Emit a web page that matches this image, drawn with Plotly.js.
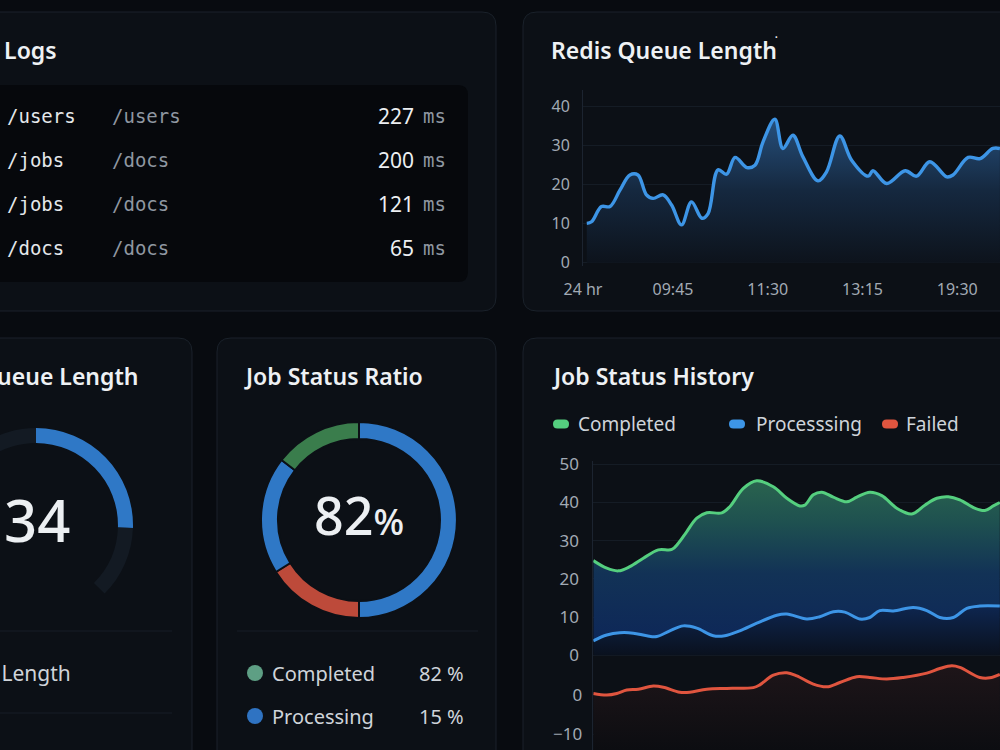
<!DOCTYPE html>
<html>
<head>
<meta charset="utf-8">
<script src="https://cdn.plot.ly/plotly-3.0.1.min.js"></script>
<style>
  html, body { margin: 0; padding: 0; width: 1000px; height: 750px; overflow: hidden; background: #080b10; }
  #dash { position: absolute; left: -120px; top: 0; width: 1120px; height: 750px; }
</style>
</head>
<body>
<div id="dash"></div>
<script>
// ---------------- data ----------------
const logRoutes = ['/users', '/jobs', '/jobs', '/docs'];
const logTargets = ['/users', '/docs', '/docs', '/docs'];
const logLatencyMs = [227, 200, 121, 65];

const redisTickVals = [0, 19, 39, 59, 79];
const redisTickText = ['24 hr', '09:45', '11:30', '13:15', '19:30'];
const redisX = [0.8, 1.8, 3.9, 5.7, 7.8, 9.9, 11.6, 13.4, 14.8, 16.9, 18.7, 20.8, 22.9, 25.1, 26.4, 28.5, 30.3, 32.1, 34.6, 36.3,
                38.0, 40.5, 42.2, 44.3, 46.4, 49.6, 51.4, 54.2, 56.7, 60.2, 61.2, 64.1, 68.0, 70.4, 73.2, 76.8, 78.1, 81.3, 83.8, 86.5, 88.0];
const redisLength = [10.1, 10.5, 14.4, 14.4, 18.6, 22.5, 22.5, 17.4, 16.5, 17.4, 14.8, 9.7, 15.6, 11.4, 12.6, 23.8, 22.7, 27.0, 24.4, 25.0,
                     31.0, 36.8, 29.3, 32.7, 27.2, 21.0, 23.3, 32.5, 26.3, 22.2, 23.6, 20.3, 23.6, 22.2, 25.9, 22.0, 22.5, 27.0, 26.7, 29.3, 29.3];

const queueLength = 34;
const queueMax = 100;

const ratioSegments = ['Processing', 'Failed', 'Processing', 'Completed'];
const ratioSegmentShare = [50.0, 16.1, 19.4, 14.5];
const statusNames = ['Completed', 'Processing', 'Failed'];
const statusPct = [82, 15, 3];

const historySeriesNames = ['Completed', 'Processsing', 'Failed'];
const completedX = [0, 2.7, 5, 7.3, 10, 13, 15.7, 17, 18.7, 20.7, 22.7, 25.7, 27.3, 30, 32.7, 36, 38.7, 41.3, 42.3, 44,
                    45.7, 48, 50.7, 52.7, 55.3, 57.7, 60.7, 63.7, 66.3, 68.7, 71, 73.3, 76.3, 78.3, 80, 81.3];
const completedJobs = [24.8, 22.8, 22.1, 23.2, 25.4, 27.6, 27.7, 29.3, 32.4, 35.9, 37.3, 37.3, 38.9, 43.7, 45.7, 44.1, 41.1, 39.1, 39.3, 42.0,
                       42.7, 41.4, 40.2, 41.4, 42.7, 41.8, 38.5, 37.0, 39.3, 41.1, 41.5, 40.7, 38.5, 37.9, 39.1, 40.0];
const processingX = [0, 2.7, 5.3, 8, 10.7, 12.7, 15.3, 18, 20.7, 24, 26.3, 29.3, 32.7, 36.7, 38.7, 42.7, 45.3, 48, 50.3, 53.3,
                     55.3, 57.3, 60, 64, 66.7, 69.3, 72, 74.7, 77.3, 81.3];
const processingJobs = [3.8, 5.3, 5.9, 5.8, 5.1, 4.9, 6.4, 7.7, 7.1, 5.1, 5.1, 6.4, 8.4, 10.5, 10.8, 9.5, 10.1, 11.4, 11.3, 9.5,
                        9.9, 11.7, 11.6, 12.5, 11.7, 9.9, 9.9, 12.3, 12.9, 12.9];
const failedX = [0, 2.7, 4.7, 6.7, 9, 12, 14, 17.3, 19.3, 22.7, 26.7, 32, 33.3, 36, 38.7, 40.7, 44, 46.7, 49.3, 52.7,
                 55.3, 58.7, 62, 66.7, 69.3, 71.7, 73.3, 77.3, 79.3, 81.3];
const failedJobs = [0.4, 0, 0.4, 1.3, 1.5, 2.3, 2.0, 0.7, 0.7, 1.5, 1.7, 1.9, 2.6, 5.1, 5.7, 4.9, 2.8, 2.1, 3.2, 4.7,
                    4.5, 4.1, 4.5, 5.6, 6.8, 7.5, 7.1, 4.5, 4.4, 5.3];

// ---------------- styling ----------------
const SANS = '"Noto Sans", "Open Sans", sans-serif';
const MONO = '"DejaVu Sans Mono", "Liberation Mono", monospace';
const COL = {
  page: '#080b10', card: '#0c1016', cardLine: '#1a212a', well: '#06080c',
  rule: '#161d26', grid: '#151c25', axis: '#1c2430',
  title: '#eef1f4', tick: '#a2aab4', text: '#cfd4da', dim: '#8f97a1',
  blue: '#3d95e6', green: '#55cf7f', red: '#e0553f',
  donutBlue: '#2f78c6', donutRed: '#bd4a3a', donutGreen: '#3a7d4c',
  dotGreen: '#5e9f84', dotBlue: '#2f73c2', dotRed: '#c0503e',
  track: '#131a23'
};

// page is 1120px wide, shifted 120px left so panels can run off the left edge
const OFF = 120, W = 1120, H = 750;
const px = x => (x + OFF) / W;
const py = y => 1 - y / H;

function roundRect(x0, y0, x1, y1, r) {
  const P = (x, y) => `${px(x)},${py(y)}`;
  return `M${P(x0 + r, y0)} L${P(x1 - r, y0)} Q${P(x1, y0)} ${P(x1, y0 + r)} ` +
         `L${P(x1, y1 - r)} Q${P(x1, y1)} ${P(x1 - r, y1)} L${P(x0 + r, y1)} ` +
         `Q${P(x0, y1)} ${P(x0, y1 - r)} L${P(x0, y0 + r)} Q${P(x0, y0)} ${P(x0 + r, y0)} Z`;
}

const shapes = [];
function card(x0, y0, x1, y1) {
  shapes.push({ type: 'path', xref: 'paper', yref: 'paper', layer: 'below', path: roundRect(x0, y0, x1, y1, 14),
                fillcolor: COL.card, line: { color: COL.cardLine, width: 1 } });
}
function rule(x0, x1, y) {
  shapes.push({ type: 'line', xref: 'paper', yref: 'paper', layer: 'below', x0: px(x0), x1: px(x1), y0: py(y), y1: py(y),
                line: { color: COL.rule, width: 1 } });
}

// cards
card(-30, 12, 496, 311);
card(523, 12, 1040, 311);
card(-30, 338, 192, 790);
card(217, 338, 496, 790);
card(523, 338, 1040, 790);
// logs well
shapes.push({ type: 'path', xref: 'paper', yref: 'paper', layer: 'below', path: roundRect(-30, 85, 468, 282, 10),
              fillcolor: COL.well, line: { width: 0 } });
// dividers
rule(0, 172, 631);
rule(0, 172, 713);
rule(237, 478, 631);

const annotations = [];
function label(text, x, y, o) {
  o = o || {};
  annotations.push({
    xref: 'paper', yref: 'paper', x: px(x), y: py(y), text: text, showarrow: false,
    xanchor: o.anchor || 'left', yanchor: 'middle',
    font: { family: o.family || SANS, size: o.size || 20, color: o.color || COL.text, weight: o.weight || 400 }
  });
}

// titles
label('API Logs', 59, 50, { anchor: 'right', size: 23, weight: 600, color: COL.title });
label('Redis Queue Length', 549, 50, { size: 23, weight: 600, color: COL.title });
label('•', 776, 37, { size: 7, color: COL.title, anchor: 'center' });
label('Queue Length', 140, 376, { anchor: 'right', size: 23, weight: 600, color: COL.title });
label('Job Status Ratio', 242, 376, { size: 23, weight: 600, color: COL.title });
label('Job Status History', 550, 376, { size: 23, weight: 600, color: COL.title });

// request log rows
logRoutes.forEach((r, i) => {
  const y = 116 + 44 * i;
  label(r, 5, y, { family: MONO, size: 19, color: '#e4e7ea' });
  label(logTargets[i], 110, y, { family: MONO, size: 19, color: COL.dim });
  label(String(logLatencyMs[i]), 416, y, { anchor: 'right', size: 21, color: '#eceff2' });
  label('ms', 421, y, { family: MONO, size: 19, color: COL.dim });
});

// queue gauge text
label(String(queueLength), 37, 519, { anchor: 'center', size: 58, weight: 500, color: '#eceff2' });
label('Queue Length', 73, 673, { anchor: 'right', size: 21, color: COL.text });
label('Count', 38, 757, { anchor: 'right', size: 20, color: COL.text });
label('Ptena 2d', 83, 757, { size: 20, color: COL.dim });

// job status ratio text
label(statusPct[0] + '<span style="font-size:36px">%</span>', 359, 514, { anchor: 'center', size: 52, weight: 500, color: '#eceff2' });
const dotColors = [COL.dotGreen, COL.dotBlue, COL.dotRed];
statusNames.forEach((n, i) => {
  const y = 673 + 43 * i;
  shapes.push({ type: 'circle', xref: 'paper', yref: 'paper', x0: px(247), x1: px(263), y0: py(y + 8), y1: py(y - 8),
                fillcolor: dotColors[i], line: { width: 0 } });
  label(n, 270, y, { size: 20, color: COL.text });
  label(statusPct[i] + ' %', 466, y, { anchor: 'right', size: 20, color: COL.text });
});

// job status history legend
const legendPill = [553, 729, 882];
const legendText = [576, 754, 904];
const seriesColors = [COL.green, COL.blue, COL.red];
historySeriesNames.forEach((n, i) => {
  shapes.push({ type: 'path', xref: 'paper', yref: 'paper',
                path: roundRect(legendPill[i], 419.5, legendPill[i] + 16, 428.5, 4.5),
                fillcolor: seriesColors[i], line: { width: 0 } });
  label(n, legendText[i], 424, { size: 19, color: COL.text });
});

// ---------------- traces ----------------
const noHover = { hoverinfo: 'skip', showlegend: false };

const traces = [
  // redis queue length
  Object.assign({
    type: 'scatter', mode: 'lines', x: redisX, y: redisLength, xaxis: 'x', yaxis: 'y',
    line: { color: COL.blue, width: 3.4, shape: 'spline', smoothing: 1 },
    fill: 'tozeroy',
    fillgradient: { type: 'vertical', start: 0, stop: 37,
      colorscale: [[0, 'rgb(13,19,28)'], [0.5, 'rgb(21,40,63)'], [1, 'rgb(38,80,125)']] }
  }, noHover),

  // failed jobs band (own scale) – filled down to the bottom of the panel
  Object.assign({
    type: 'scatter', mode: 'lines', x: [0, 81.34], y: [-14.1, -14.1], xaxis: 'x2', yaxis: 'y3',
    line: { width: 0, color: 'rgba(0,0,0,0)' }
  }, noHover),
  Object.assign({
    type: 'scatter', mode: 'lines', x: failedX, y: failedJobs, xaxis: 'x2', yaxis: 'y3',
    line: { color: COL.red, width: 3, shape: 'spline', smoothing: 1 },
    fill: 'tonexty',
    fillgradient: { type: 'vertical', start: -14, stop: 7.5,
      colorscale: [[0, 'rgb(12,13,17)'], [1, 'rgb(30,21,25)']] }
  }, noHover),

  // processing
  Object.assign({
    type: 'scatter', mode: 'lines', x: processingX, y: processingJobs, xaxis: 'x2', yaxis: 'y2',
    line: { color: COL.blue, width: 3, shape: 'spline', smoothing: 1 },
    fill: 'tozeroy',
    fillgradient: { type: 'vertical', start: 0, stop: 13,
      colorscale: [[0, 'rgb(10,17,30)'], [1, 'rgb(14,38,80)']] }
  }, noHover),

  // completed
  Object.assign({
    type: 'scatter', mode: 'lines', x: completedX, y: completedJobs, xaxis: 'x2', yaxis: 'y2',
    line: { color: COL.green, width: 3, shape: 'spline', smoothing: 1 },
    fill: 'tonexty',
    fillgradient: { type: 'vertical', start: 5, stop: 46,
      colorscale: [[0, 'rgb(14,40,88)'], [0.4, 'rgb(18,50,86)'], [0.72, 'rgb(30,80,80)'], [1, 'rgb(42,100,78)']] }
  }, noHover),

  // queue gauge: 270° track from 225° to 135° (clockwise from top), value arc from the top
  Object.assign({
    type: 'pie', values: [queueLength / queueMax * 270, 135 - queueLength / queueMax * 270, 90, 135],
    marker: { colors: [COL.donutBlue, COL.track, 'rgba(0,0,0,0)', COL.track], line: { width: 0 } },
    hole: 0.845, sort: false, direction: 'clockwise', rotation: 0, textinfo: 'none',
    domain: { x: [px(-61), px(133)], y: [py(622), py(428)] }
  }, noHover),

  // job status ratio donut
  Object.assign({
    type: 'pie', labels: ratioSegments.map((s, i) => s + ' ' + i), values: ratioSegmentShare,
    marker: { colors: [COL.donutBlue, COL.donutRed, COL.donutBlue, COL.donutGreen], line: { color: COL.card, width: 2 } },
    hole: 0.827, sort: false, direction: 'clockwise', rotation: 0, textinfo: 'none',
    domain: { x: [px(261), px(457)], y: [py(618), py(422)] }
  }, noHover)
];

// ---------------- layout ----------------
const tickFont = { family: SANS, size: 16, color: COL.tick };

const layout = {
  width: W, height: H, autosize: false,
  margin: { l: 0, r: 0, t: 0, b: 0, pad: 0 },
  paper_bgcolor: COL.page, plot_bgcolor: 'rgba(0,0,0,0)',
  showlegend: false, hovermode: false,
  shapes: shapes, annotations: annotations,

  xaxis: {
    domain: [px(583), 1], range: [0, 88.02], anchor: 'y',
    tickmode: 'array', tickvals: redisTickVals, ticktext: redisTickText,
    showgrid: false, zeroline: false, showline: false, ticks: '',
    tickfont: tickFont, ticklabelstandoff: 12, fixedrange: true
  },
  yaxis: {
    domain: [py(266), py(90)], range: [-0.85, 44.3], anchor: 'x',
    tickmode: 'array', tickvals: [0, 10, 20, 30, 40],
    showgrid: true, gridcolor: COL.grid, gridwidth: 1, zeroline: false,
    showline: true, linecolor: COL.axis, linewidth: 1, ticks: '',
    tickfont: tickFont, ticklabelstandoff: 9, fixedrange: true
  },

  xaxis2: {
    domain: [px(593.3), 1], range: [0, 81.34], anchor: 'y2',
    showgrid: false, zeroline: false, showline: false, showticklabels: false, ticks: '', fixedrange: true
  },
  yaxis2: {
    domain: [0, py(461)], range: [-24.79, 50.86], anchor: 'x2',
    tickmode: 'array', tickvals: [0, 10, 20, 30, 40, 50],
    showgrid: true, gridcolor: COL.grid, gridwidth: 1, zeroline: false,
    showline: true, linecolor: COL.axis, linewidth: 1, ticks: '',
    tickfont: { family: SANS, size: 17, color: COL.tick }, ticklabelstandoff: 10, fixedrange: true
  },
  yaxis3: {
    overlaying: 'y2', side: 'left', anchor: 'x2', range: [-14.1, 60.0],
    tickmode: 'array', tickvals: [-10, 0],
    showgrid: true, gridcolor: COL.grid, gridwidth: 1, zeroline: false, showline: false, ticks: '',
    tickfont: { family: SANS, size: 17, color: COL.tick }, ticklabelstandoff: 10, fixedrange: true
  }
};

Plotly.newPlot('dash', traces, layout, { staticPlot: true, displayModeBar: false, responsive: false });
</script>
</body>
</html>
